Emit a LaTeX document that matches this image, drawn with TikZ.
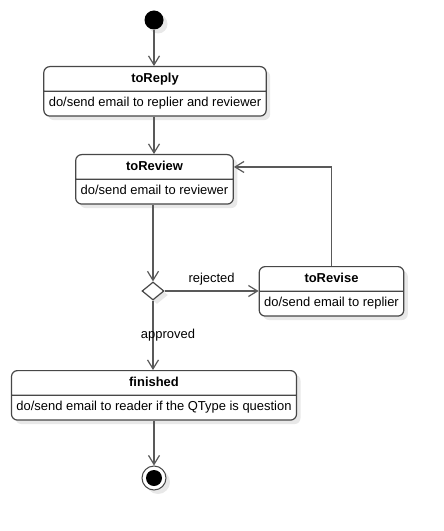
\documentclass[tikz,border=0pt]{standalone}
\usepackage{fontspec}
\setmainfont{Liberation Sans}
\usetikzlibrary{positioning,shapes.multipart,shapes.geometric,arrows.meta,shadows}

\begin{document}
\begin{tikzpicture}[x=1bp,y=-1bp,
  font=\fontsize{13}{15.6}\selectfont,
  shade/.style={drop shadow={shadow xshift=4bp, shadow yshift=-4bp, fill=black!9, opacity=1}},
  stbox/.style={rectangle split, rectangle split parts=2, draw=black!72, line width=1.2bp,
    rounded corners=6bp, fill=white, inner xsep=5bp, inner ysep=4bp, anchor=north, shade},
  tr/.style={color=black!65, line width=1.2bp, -{Straight Barb[length=9bp,width=11bp]}}]
  \useasboundingbox (0,0) rectangle (444,531);

  \node (init) [circle, fill=black, minimum size=19bp, inner sep=0, shade] at (154,20) {};
  \node (toReply) [stbox] at (155,66)
    {\textbf{toReply}\strut \nodepart{two} do/send email to replier and reviewer\strut};
  \node (toReview) [stbox] at (154.5,154)
    {\textbf{toReview}\strut \nodepart{two} do/send email to reviewer\strut};
  \node (choice) [diamond, draw=black!72, line width=1.2bp, fill=white, minimum width=22bp,
    minimum height=18bp, inner sep=0, shade] at (153,291) {};
  \node (toRevise) [stbox] at (331.5,266)
    {\textbf{toRevise}\strut \nodepart{two} do/send email to replier\strut};
  \node (finished) [stbox] at (154,370)
    {\textbf{finished}\strut \nodepart{two} do/send email to reader if the QType is question\strut};
  \node (final) [circle, draw=black!72, line width=1bp, fill=white, minimum size=24bp,
    inner sep=0, shade] at (154,478) {};
  \node (finalDot) [circle, fill=black, minimum size=16bp, inner sep=0] at (final) {};

  \path[tr]
    (init) edge (init |- toReply.north)
    (toReply.south -| init) edge (init |- toReview.north)
    (toReview.south -| choice) edge (choice)
    (choice) edge node[above=2bp, black] {rejected} (choice -| toRevise.west)
    (choice) edge node[xshift=15bp, black] {approved} (choice |- finished.north)
    (finished.south -| final) edge (final);
  \draw[tr] (toRevise.north) |- (toReview.one east);

\end{tikzpicture}
\end{document}
